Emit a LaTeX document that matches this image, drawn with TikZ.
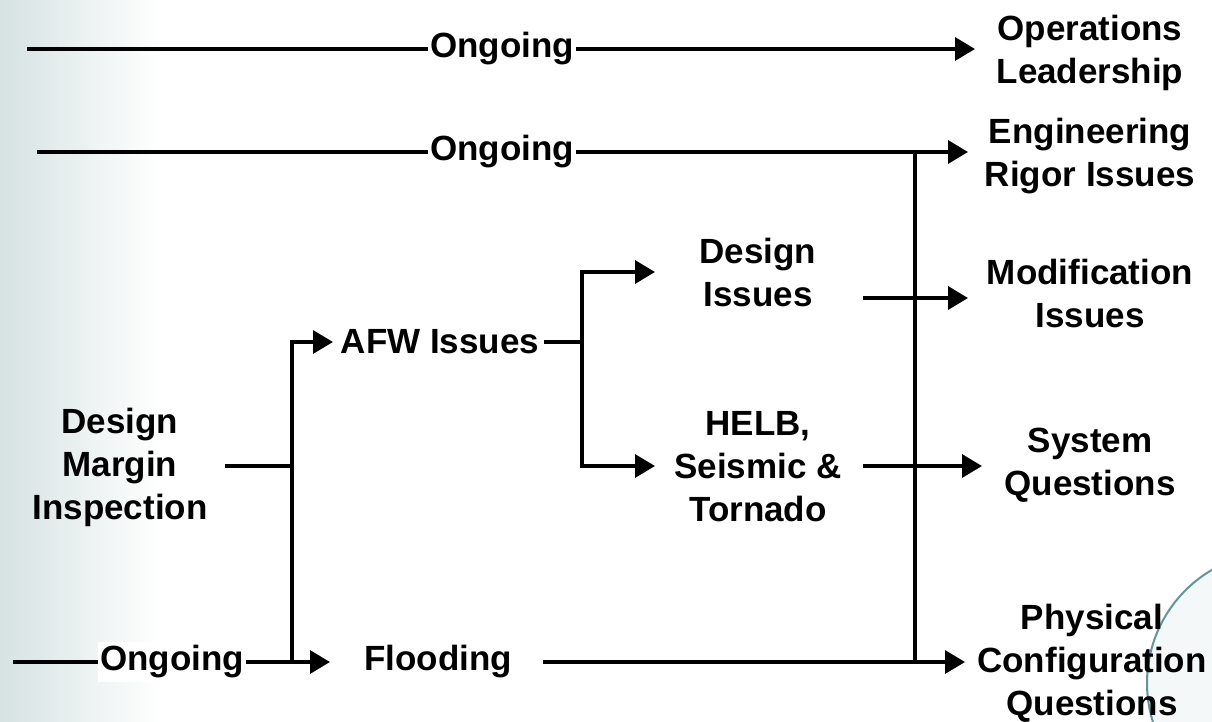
\documentclass[tikz,border=0pt]{standalone}
\usepackage{fontspec}
\setmainfont{Liberation Sans}
\usetikzlibrary{arrows.meta,calc}
\definecolor{bgteal}{RGB}{214,226,226}
\definecolor{arcteal}{RGB}{95,150,160}
\begin{document}
\begin{tikzpicture}[x=1pt,y=-1pt,
  lbl/.style={font=\fontsize{35}{43}\selectfont\bfseries, align=center, inner sep=0pt},
  ong/.style={lbl, inner xsep=2pt},
  conn/.style={line width=3.3pt},
  arr/.style={conn, -{Triangle[length=20pt,width=23pt]}},
]
\useasboundingbox (0,0) rectangle (1212,722);
% background
\shade[left color=bgteal, right color=white] (0,0) rectangle (160,722);
\begin{scope}
  \clip (0,0) rectangle (1212,722);
  \fill[arcteal!7] (1278,683) circle[radius=131pt];
  \draw[arcteal, line width=2pt] (1278,683) circle[radius=131pt];
\end{scope}

% labels
\node[lbl] (ops)  at (1090,53)  {Operations\\Leadership};
\node[lbl] (eng)  at (1090,156) {Engineering\\Rigor Issues};
\node[lbl] (mod)  at (1090,293) {Modification\\Issues};
\node[lbl] (sys)  at (1090,465) {System\\Questions};
\node[lbl] (phy)  at (1092,663) {Physical\\Configuration\\Questions};
\node[lbl] (des)  at (758,272)  {Design\\Issues};
\node[lbl] (helb) at (758,467)  {HELB,\\Seismic \&\\Tornado};
\node[lbl] (dmi)  at (120,467)  {Design\\Margin\\Inspection};
\node[lbl] (afw)  at (440,342)  {AFW Issues};
\node[lbl] (fld)  at (438,662)  {Flooding};
\node[ong] (on1)  at (502,49)   {Ongoing};
\node[ong] (on2)  at (502,152)  {Ongoing};
\node[ong, fill=white, inner ysep=4pt] (on3) at (172,662) {Ongoing};

% coordinates
\coordinate (s1) at (27,49);
\coordinate (t1) at (975,49);
\coordinate (s2) at (37,152);
\coordinate (t2) at (968,152);
\coordinate (j2) at (915,152);
\coordinate (j5) at (915,662);
\coordinate (s3) at (13,662);
\coordinate (b1) at (292,466);
\coordinate (bb) at (292,662);
\coordinate (ta) at (333,342);
\coordinate (tf) at (330,662);
\coordinate (t5) at (965,662);
\coordinate (c1) at (582,342);
\coordinate (td) at (655,272);
\coordinate (th) at (655,466);
\coordinate (tm) at (968,298);
\coordinate (ts) at (982,466);

% connectors
\draw[conn] (s1) -- (on1.west);
\draw[arr]  (on1.east) -- (t1);
\draw[conn] (s2) -- (on2.west);
\draw[arr]  (on2.east) -- (t2);
\draw[conn] (j2) -- (j5);
\draw[conn] (s3) -- (on3.west);
\draw[conn] (on3.east) -- (bb);
\draw[conn] ([xshift=17pt]dmi.east |- b1) -- (b1);
\draw[arr]  (b1) |- (ta);
\draw[arr]  (b1) |- (tf);
\draw[arr]  ([xshift=31pt]fld.east) -- (t5);
\draw[conn] ([xshift=5pt]afw.east) -- (c1);
\draw[arr]  (c1) |- (td);
\draw[arr]  (c1) |- (th);
\draw[arr]  ([xshift=46pt]des.east |- tm) -- (tm);
\draw[arr]  ([xshift=21pt]helb.east |- ts) -- (ts);
\end{tikzpicture}
\end{document}
